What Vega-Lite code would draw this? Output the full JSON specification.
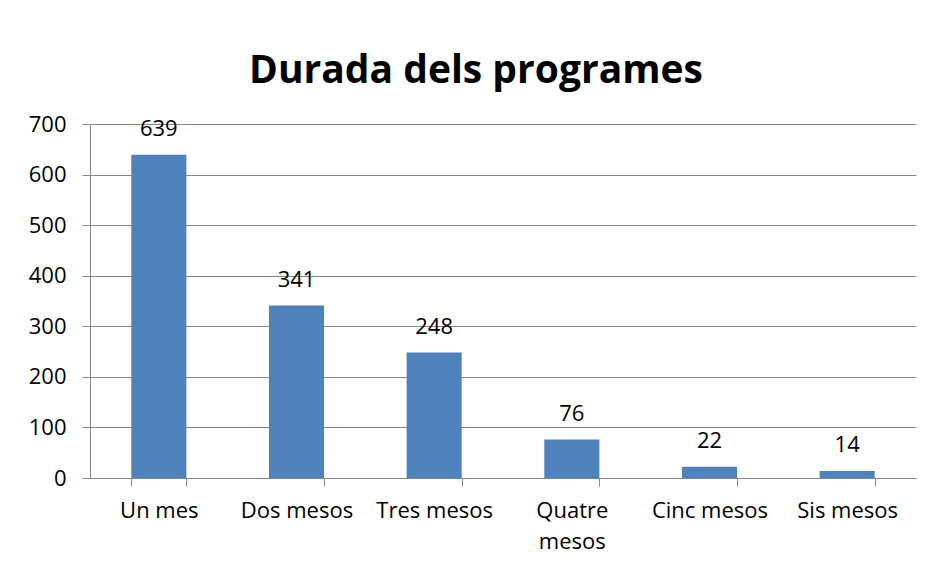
{
  "$schema": "https://vega.github.io/schema/vega-lite/v6.json",
  "width": 826,
  "height": 354,
  "autosize": "none",
  "padding": {"left": 90, "top": 124, "right": 17, "bottom": 89},
  "background": "white",
  "title": {
    "text": "Durada dels programes",
    "font": "Open Sans",
    "fontSize": 39,
    "fontWeight": "bold",
    "color": "black",
    "anchor": "middle",
    "dx": -27,
    "dy": 47,
    "baseline": "bottom",
    "offset": 30
  },
  "data": {
    "values": [
      {"durada": "Un mes", "n": 639},
      {"durada": "Dos mesos", "n": 341},
      {"durada": "Tres mesos", "n": 248},
      {"durada": "Quatre mesos", "n": 76},
      {"durada": "Cinc mesos", "n": 22},
      {"durada": "Sis mesos", "n": 14}
    ]
  },
  "encoding": {
    "x": {
      "field": "durada",
      "type": "nominal",
      "sort": null,
      "scale": {"paddingInner": 0.6, "paddingOuter": 0.3},
      "axis": {
        "title": null,
        "labelAngle": 0,
        "labelFont": "Open Sans",
        "labelFontSize": 22,
        "labelColor": "black",
        "labelPadding": 14,
        "labelLineHeight": 31,
        "labelExpr": "datum.label == 'Quatre mesos' ? ['Quatre', 'mesos'] : datum.label",
        "tickBand": "extent",
        "tickSize": 8,
        "tickColor": "#868686",
        "domainColor": "#868686",
        "grid": false
      }
    },
    "y": {
      "field": "n",
      "type": "quantitative",
      "scale": {"domain": [0, 700], "nice": false},
      "axis": {
        "title": null,
        "values": [0, 100, 200, 300, 400, 500, 600, 700],
        "labelFont": "Open Sans",
        "labelFontSize": 22,
        "labelColor": "black",
        "labelPadding": 16,
        "tickSize": 8,
        "tickColor": "#868686",
        "domainColor": "#868686",
        "gridColor": "#868686",
        "gridWidth": 1
      }
    }
  },
  "layer": [
    {"mark": {"type": "bar", "color": "#4F81BD"}},
    {
      "mark": {"type": "text", "baseline": "alphabetic", "dy": -19, "font": "Open Sans", "fontSize": 22, "color": "black"},
      "encoding": {"text": {"field": "n", "type": "quantitative"}}
    }
  ],
  "config": {"view": {"stroke": null}}
}
